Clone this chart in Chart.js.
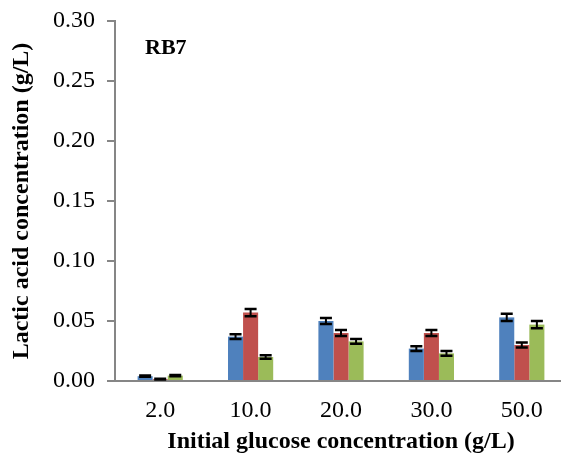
<!DOCTYPE html>
<html>
<head>
<meta charset="utf-8">
<script src="https://cdn.jsdelivr.net/npm/chart.js@4.4.1/dist/chart.umd.min.js"></script>
<style>
  html, body { margin: 0; padding: 0; background: #ffffff; overflow: hidden; }
  #wrap { position: absolute; left: 0; top: -3px; width: 572px; height: 462px; }
</style>
</head>
<body>
<div id="wrap"><canvas id="c"></canvas></div>
<script>
// ---- data ----
const categories = ['2.0', '10.0', '20.0', '30.0', '50.0'];
const seriesA = [0.004, 0.037, 0.050, 0.027, 0.053];
const seriesB = [0.0015, 0.057, 0.040, 0.040, 0.030];
const seriesC = [0.0045, 0.020, 0.033, 0.023, 0.047];
const errorsA = [0.0005, 0.002, 0.0025, 0.002, 0.003];
const errorsB = [0.0003, 0.003, 0.0025, 0.0025, 0.002];
const errorsC = [0.0005, 0.0015, 0.002, 0.002, 0.003];
const yTicks = [0, 0.05, 0.10, 0.15, 0.20, 0.25, 0.30];
const panelLabel = 'RB7';
const xTitle = 'Initial glucose concentration (g/L)';
const yTitle = 'Lactic acid concentration (g/L)';

const FONT = "'Times New Roman', 'Liberation Serif', serif";
const AXIS = '#868686';

const errorBars = {
  id: 'errorBars',
  afterDatasetsDraw(chart) {
    const ctx = chart.ctx;
    const y = chart.scales.y;
    ctx.save();
    ctx.strokeStyle = '#000000';
    chart.data.datasets.forEach((ds, di) => {
      const meta = chart.getDatasetMeta(di);
      meta.data.forEach((bar, i) => {
        const v = ds.data[i], e = ds.errors[i];
        const yTop = y.getPixelForValue(v + e);
        const yBot = y.getPixelForValue(v - e);
        const half = 6;
        ctx.lineWidth = 2;
        ctx.beginPath();
        ctx.moveTo(bar.x, yTop); ctx.lineTo(bar.x, yBot);
        ctx.stroke();
        ctx.lineWidth = 2.5;
        ctx.beginPath();
        ctx.moveTo(bar.x - half, yTop); ctx.lineTo(bar.x + half, yTop);
        ctx.moveTo(bar.x - half, yBot); ctx.lineTo(bar.x + half, yBot);
        ctx.stroke();
      });
    });
    ctx.restore();
  }
};

const panelText = {
  id: 'panelText',
  afterDraw(chart) {
    const ctx = chart.ctx, a = chart.chartArea;
    ctx.save();
    ctx.font = "bold 22px " + FONT;
    ctx.fillStyle = '#000';
    ctx.textBaseline = 'middle';
    ctx.fillText(panelLabel, a.left + 30, a.top + 27);
    ctx.restore();
  }
};

new Chart(document.getElementById('c'), {
  type: 'bar',
  data: {
    labels: categories,
    datasets: [
      { data: seriesA, errors: errorsA, backgroundColor: '#4F81BD' },
      { data: seriesB, errors: errorsB, backgroundColor: '#C0504D' },
      { data: seriesC, errors: errorsC, backgroundColor: '#9BBB59' }
    ]
  },
  options: {
    responsive: true,
    maintainAspectRatio: false,
    animation: false,
    layout: { padding: { left: 0, right: 5, top: 0, bottom: 5 } },
    plugins: { legend: { display: false }, tooltip: { enabled: false } },
    datasets: { bar: { categoryPercentage: 0.5, barPercentage: 1.0, borderWidth: 0 } },
    scales: {
      x: {
        grid: { display: false, drawTicks: false },
        border: { display: true, color: AXIS, width: 2 },
        ticks: { color: '#000', font: { family: FONT, size: 24, lineHeight: 1 }, padding: 18 },
        title: { display: true, text: xTitle, color: '#000', font: { family: FONT, size: 24, weight: 'bold', lineHeight: 1 }, padding: { top: -11, bottom: 0 } }
      },
      y: {
        min: 0, max: 0.3,
        afterBuildTicks(scale) { scale.ticks = yTicks.map(v => ({ value: v })); },
        afterFit(scale) { scale.width = 115; },
        grid: { drawOnChartArea: false, drawTicks: true, tickLength: 8, color: AXIS, lineWidth: 2 },
        border: { display: true, color: AXIS, width: 2 },
        ticks: { color: '#000', font: { family: FONT, size: 24, lineHeight: 1 }, padding: 12, callback: v => Number(v).toFixed(2) },
        title: { display: true, text: yTitle, color: '#000', font: { family: FONT, size: 24, weight: 'bold', lineHeight: 1 }, padding: { top: 10, bottom: 0 } }
      }
    }
  },
  plugins: [errorBars, panelText]
});
</script>
</body>
</html>
